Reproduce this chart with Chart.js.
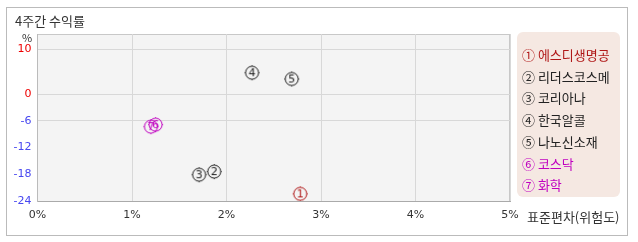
<!DOCTYPE html>
<html>
<head>
<meta charset="utf-8">
<script src="https://cdn.jsdelivr.net/npm/chart.js@4"></script>
<style>
  body { margin: 0; background: #fff; font-family: "Noto Sans CJK KR", "DejaVu Sans", sans-serif; }
  #wrap { position: relative; width: 638px; height: 242px; }
  #frame { position: absolute; left: 6px; top: 7px; width: 620px; height: 227px; border: 1px solid #bbb; }
  #chart { position: absolute; left: 0; top: 0; }
  .txt { position: absolute; font-size: 13px; color: #333; white-space: nowrap; }
  #legend { position: absolute; left: 517px; top: 32px; width: 103px; height: 165px; background: #f5e8e2; border-radius: 6px; }
  #legend div { position: absolute; left: 5px; font-size: 13px; line-height: 15px; white-space: nowrap; }
</style>
</head>
<body>
<div id="wrap">
  <div id="frame"></div>
  <canvas id="chart" width="638" height="242"></canvas>
  <div class="txt" style="left:15px;top:11px;">4주간 수익률</div>
  <div class="txt" style="left:22px;top:29px;font-size:11px;">%</div>
  <div class="txt" style="left:527px;top:207px;">표준편차(위험도)</div>
  <div id="legend"></div>
</div>
<script>
// Data
const names = ['에스디생명공', '리더스코스메', '코리아나', '한국알콜', '나노신소재', '코스닥', '화학'];
const marks = ['①', '②', '③', '④', '⑤', '⑥', '⑦'];
const risk = [2.78, 1.87, 1.71, 2.27, 2.69, 1.25, 1.2];
const returns = [-22.4, -17.4, -18.1, 4.8, 3.4, -6.85, -7.3];
const colors = ['#b01818', '#222', '#222', '#222', '#222', '#c000c0', '#c000c0'];
const yTicks = [10, 0, -6, -12, -18, -24];
const yGridAt = [10, 0, -6];

// circled-number marker
function makeMarker(n, color) {
  const c = document.createElement('canvas');
  c.width = 19; c.height = 19;
  const g = c.getContext('2d');
  g.strokeStyle = color;
  g.fillStyle = color;
  g.lineWidth = 1;
  g.beginPath();
  g.arc(9.5, 9.5, 6.5, 0, Math.PI * 2);
  g.stroke();
  g.beginPath();
  g.moveTo(9.5, 2); g.lineTo(9.5, 3);
  g.moveTo(9.5, 16); g.lineTo(9.5, 17);
  g.moveTo(2, 9.5); g.lineTo(3, 9.5);
  g.moveTo(16, 9.5); g.lineTo(17, 9.5);
  g.stroke();
  g.font = '11px "DejaVu Sans", sans-serif';
  g.textAlign = 'center';
  g.textBaseline = 'middle';
  g.fillText(String(n), 9.5, 10);
  return c;
}

const datasets = names.map((name, i) => ({
  label: name,
  data: [{ x: risk[i], y: returns[i] }],
  pointStyle: makeMarker(i + 1, colors[i]),
  pointRadius: 8,
}));

// Plot background + top/right border
const plotBg = {
  id: 'plotBg',
  beforeDraw(chart) {
    const { ctx, chartArea: a } = chart;
    ctx.save();
    ctx.fillStyle = '#f4f4f4';
    ctx.fillRect(a.left, a.top, a.right - a.left, a.bottom - a.top);
    ctx.strokeStyle = '#c8c8c8';
    ctx.lineWidth = 1;
    ctx.beginPath();
    ctx.moveTo(a.left, a.top + 0.5);
    ctx.lineTo(a.right, a.top + 0.5);
    ctx.moveTo(a.right - 0.5, a.top);
    ctx.lineTo(a.right - 0.5, a.bottom);
    ctx.stroke();
    ctx.restore();
  },
};

new Chart(document.getElementById('chart'), {
  type: 'scatter',
  data: { datasets: datasets },
  plugins: [plotBg],
  options: {
    responsive: false,
    animation: false,
    layout: { padding: { top: 34, right: 128, left: 0, bottom: 0 } },
    plugins: { legend: { display: false }, tooltip: { enabled: false } },
    scales: {
      x: {
        min: 0,
        max: 5,
        afterFit(scale) { scale.height = 41; },
        ticks: {
          stepSize: 1,
          padding: 8,
          color: '#333',
          font: { size: 11, family: '"DejaVu Sans", sans-serif' },
          callback: (v) => v + '%',
        },
        grid: { color: '#d8d8d8', drawTicks: false },
        border: { color: '#aaa' },
      },
      y: {
        min: -24,
        max: 13.5,
        afterFit(scale) { scale.width = 37.5; },
        afterBuildTicks(scale) { scale.ticks = yTicks.map((v) => ({ value: v })); },
        ticks: {
          padding: 6,
          font: { size: 11, family: '"DejaVu Sans", sans-serif' },
          color: (c) => (c.tick.value >= 0 ? '#ee0000' : '#4848f0'),
        },
        grid: {
          drawTicks: false,
          color: (c) => (c.tick && yGridAt.includes(c.tick.value) ? '#d8d8d8' : 'rgba(0,0,0,0)'),
        },
        border: { color: '#bbb' },
      },
    },
  },
});

// Legend
const legend = document.getElementById('legend');
names.forEach((name, i) => {
  const d = document.createElement('div');
  d.style.top = (15 + i * 21.7) + 'px';
  d.style.color = colors[i];
  d.textContent = marks[i] + ' ' + name;
  legend.appendChild(d);
});
</script>
</body>
</html>
